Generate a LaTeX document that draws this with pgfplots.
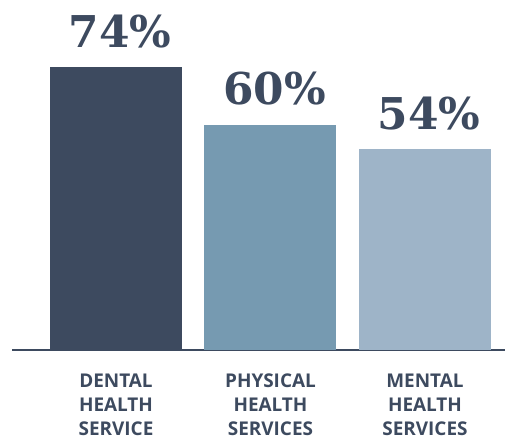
\documentclass[border=0pt]{standalone}
\usepackage{fontspec}
\setmainfont{Open Sans}
\newfontfamily\slab{DejaVu Serif}
\usepackage{pgfplots}
\pgfplotsset{compat=1.18}
\definecolor{navy}{HTML}{3D4A5F}
\definecolor{steel}{HTML}{769AB1}
\definecolor{pale}{HTML}{9EB4C8}
\begin{document}
\begin{tikzpicture}[x=1bp,y=1bp]
\begin{axis}[
    scale only axis,
    width=493bp, height=350bp,
    xmin=-0.673, xmax=2.518,
    ymin=5, ymax=90.4,
    axis x line=bottom,
    hide y axis,
    axis line style={-, line width=2.5bp, navy},
    xtick={0,1,2},
    xticklabels={{DENTAL\\HEALTH\\SERVICE},{PHYSICAL\\HEALTH\\SERVICES},{MENTAL\\HEALTH\\SERVICES}},
    xticklabel style={align=center, text=navy, font=\bfseries\fontsize{19}{24}\selectfont, inner sep=0pt},
    major tick length=0pt,
    xticklabel shift=24bp,
    ybar, bar width=132bp,
    clip=false,
    /pgf/number format/assume math mode=true,
    nodes near coords={\pgfmathprintnumber{\pgfplotspointmeta}\%},
    every node near coord/.style={anchor=base, yshift=20bp, xshift=4bp, inner sep=0pt, text=navy, font=\slab\bfseries\fontsize{44}{44}\selectfont},
]
\addplot[fill=navy, draw=none, bar shift=0pt] coordinates {(0,74)};
\addplot[fill=steel, draw=none, bar shift=0pt] coordinates {(1,60)};
\addplot[fill=pale, draw=none, bar shift=0pt] coordinates {(2,54)};
\end{axis}
\pgfresetboundingbox
\path (current axis.south west) ++(-12bp,-93bp) rectangle ++(505bp,443bp);
\end{tikzpicture}
\end{document}
